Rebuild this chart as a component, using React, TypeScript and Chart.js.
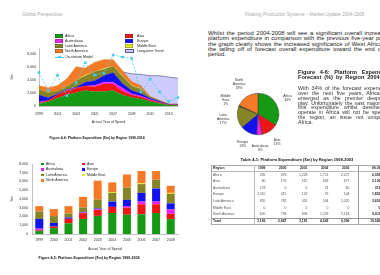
import React, { useEffect, useRef } from 'react';
import { Chart, registerables } from 'chart.js';

Chart.register(...registerables);

const FONT = "'Liberation Sans', Arial, sans-serif";
Chart.defaults.font.family = FONT;

// ---------- data ----------
const years = ['1999', '2000', '2001', '2002', '2003', '2004', '2005', '2006', '2007', '2008', '2009', '2010', '2011', '2012', '2013', '2014'];
const barYears = ['1999', '2000', '2001', '2002', '2003', '2004', '2005', '2006', '2007', '2008'];
const tableYears = ['1999', '2000', '2001', '2002', '2003'];

const regionNames = ['Africa', 'Asia', 'Australasia', 'Europe', 'Latin America', 'Middle East', 'North America'];
const regionColors = ['#169a16', '#ee1515', '#ee22ee', '#1212ee', '#858528', '#e8e820', '#f57a25'];

const africa = [355, 676, 1228, 1721, 2072, 2400, 2200, 2250, 2400, 1700, 1300, 1100, 700, 400, 150, 100];
const asia = [80, 176, 515, 658, 677, 700, 800, 1150, 1000, 600, 400, 300, 200, 150, 50, 100];
const australasia = [178, 0, 0, 74, 60, 0, 200, 300, 300, 500, 200, 150, 100, 50, 20, 20];
const europe = [1110, 415, 147, 76, 104, 600, 700, 1000, 1500, 700, 500, 400, 200, 150, 50, 50];
const latinAmerica = [855, 782, 455, 504, 1020, 1000, 1400, 1000, 1000, 1100, 700, 700, 200, 100, 30, 30];
const middleEast = [0, 0, 0, 0, 0, 100, 0, 100, 0, 100, 100, 50, 0, 0, 0, 0];
const northAmerica = [605, 798, 836, 1209, 2163, 1100, 1500, 1400, 1000, 800, 600, 500, 100, 50, 0, 0];
const regionSeries = [africa, asia, australasia, europe, latinAmerica, middleEast, northAmerica];

const longTermTrend = [null, null, null, null, null, null, null, null, null, 5300, 5000, 4900, 4700, 4700, 4500, 4300];
const onStreamModel = [5200, 2400, 4800, 1600, 3600, 6700, 4800, 5100, 7900, 7600, 7400, 2200, 4200, 2200, 700, 1300];

const pieShares = [34, 13, 4, 13, 17, 1, 18];

const areaYMax = 9000;
const barYMax = 8000;
const yStep = 1000;

// ---------- helpers ----------
type TxtProps = { x: number; y: number; size: number; bold?: boolean; color?: string; align?: string; width?: number; children: any };
const Txt = ({ x, y, size, bold, color = '#222', align = 'left', width, children }: TxtProps) => {
  const style: any = {
    position: 'absolute', top: y - size * 0.6, left: x, fontSize: size + 'px', lineHeight: size * 1.2 + 'px',
    fontWeight: bold ? 700 : 400, color, whiteSpace: 'nowrap', fontFamily: FONT,
  };
  if (align === 'center') style.transform = 'translateX(-50%)';
  if (align === 'right') style.transform = 'translateX(-100%)';
  if (align === 'justify') { style.width = width; style.textAlign = 'justify'; style.textAlignLast = 'justify'; }
  return <div style={style}>{children}</div>;
};

const tickFont = { size: 3.5, family: FONT };
const titleFont = { size: 3.6, family: FONT };

const pieLabelPlugin = {
  id: 'pieLabels',
  afterDatasetsDraw(chart: any) {
    const ctx = chart.ctx;
    const meta = chart.getDatasetMeta(0);
    ctx.save();
    ctx.font = `3.4px ${FONT}`;
    ctx.fillStyle = '#333';
    ctx.textAlign = 'center';
    ctx.textBaseline = 'middle';
    meta.data.forEach((arc: any, i: number) => {
      const p = arc.getProps(['x', 'y', 'startAngle', 'endAngle', 'outerRadius'], true);
      const mid = (p.startAngle + p.endAngle) / 2;
      const lines = [...regionNames[i].split(' '), pieShares[i] + '%'];
      const R = p.outerRadius + 10 + lines.length * 1.5;
      const cx = p.x + Math.cos(mid) * R;
      const cy = p.y + Math.sin(mid) * R;
      const lh = 4;
      lines.forEach((l, k) => ctx.fillText(l, cx, cy + (k - (lines.length - 1) / 2) * lh));
    });
    ctx.restore();
  },
};

export default function App() {
  const areaRef = useRef<HTMLCanvasElement>(null);
  const barRef = useRef<HTMLCanvasElement>(null);
  const pieRef = useRef<HTMLCanvasElement>(null);

  useEffect(() => {
    const axisBorder = { display: true, color: '#999', width: 0.6 };
    const stackedSets = regionSeries.map((s, i) => ({
      label: regionNames[i], data: s, backgroundColor: regionColors[i], borderColor: regionColors[i],
      borderWidth: 0.3, fill: i === 0 ? 'origin' : '-1', pointRadius: 0, stack: 'regions', order: 1,
    }));
    const area = new Chart(areaRef.current!, {
      type: 'line',
      data: {
        labels: years,
        datasets: [
          ...stackedSets,
          { label: 'Long-term Trend', data: longTermTrend, backgroundColor: '#ccccff', borderColor: '#5a5a90', borderWidth: 0.7, fill: 'origin', pointRadius: 0, stack: 'trend', order: 5 },
          { label: 'On-stream Model', data: onStreamModel, borderColor: '#44ccee', backgroundColor: '#44ccee', borderWidth: 0.8, borderDash: [2, 1.5], fill: false, pointRadius: 1.3, pointStyle: 'rect', stack: 'model', order: 0 },
        ] as any,
      },
      options: {
        responsive: false, animation: false,
        layout: { padding: { top: 18, right: 12, bottom: 4, left: 0 } },
        plugins: { legend: { display: false }, tooltip: { enabled: false } },
        elements: { line: { tension: 0 } },
        scales: {
          x: {
            offset: false, grid: { display: false, drawTicks: false }, border: axisBorder,
            ticks: { autoSkip: false, maxRotation: 0, font: tickFont, color: '#333', padding: 6, callback: (_v: any, i: number) => (i % 2 === 0 ? years[i] : '') },
            title: { display: true, text: 'Actual Year of Spend', font: titleFont, color: '#333', padding: { top: 0, bottom: 1.8 } },
            afterFit: (s: any) => { s.height = 20; },
          },
          y: {
            stacked: true, min: 0, max: areaYMax, grid: { display: false, drawTicks: false }, border: axisBorder,
            ticks: { stepSize: yStep, font: tickFont, color: '#333', padding: 3 },
            title: { display: true, text: '$m', font: titleFont, color: '#333', padding: { top: 9.8, bottom: 0 } },
            afterFit: (s: any) => { s.width = 39; },
          },
        },
      } as any,
    });

    const bar = new Chart(barRef.current!, {
      type: 'bar',
      data: {
        labels: barYears,
        datasets: regionSeries.map((s, i) => ({
          label: regionNames[i], data: s.slice(0, barYears.length), backgroundColor: regionColors[i],
          categoryPercentage: 1, barPercentage: 0.55,
        })),
      },
      options: {
        responsive: false, animation: false,
        layout: { padding: { top: 14, right: 12, bottom: 11, left: 0 } },
        plugins: { legend: { display: false }, tooltip: { enabled: false } },
        scales: {
          x: {
            stacked: true, grid: { display: false, drawTicks: false }, border: axisBorder,
            ticks: { autoSkip: false, maxRotation: 0, font: tickFont, color: '#333', padding: 4.2 },
            title: { display: true, text: 'Actual Year of Spend', font: titleFont, color: '#333', padding: { top: 0, bottom: 2.8 } },
            afterFit: (s: any) => { s.height = 20; },
          },
          y: {
            stacked: true, min: 0, max: barYMax, grid: { display: false, drawTicks: false }, border: axisBorder,
            ticks: { stepSize: yStep, font: tickFont, color: '#333', padding: 4 },
            title: { display: true, text: '$m', font: titleFont, color: '#333', padding: { top: 9.8, bottom: 0 } },
            afterFit: (s: any) => { s.width = 32; },
          },
        },
      } as any,
    });

    const pie = new Chart(pieRef.current!, {
      type: 'pie',
      data: {
        labels: regionNames,
        datasets: [{ data: pieShares, backgroundColor: regionColors.map((c, i) => (i === 5 ? '#3a3a10' : c)), borderColor: '#333', borderWidth: 0.4 }],
      },
      options: {
        responsive: false, animation: false,
        layout: { padding: { left: 37, right: 37, top: 28, bottom: 28 } },
        plugins: { legend: { display: false }, tooltip: { enabled: false } },
      } as any,
      plugins: [pieLabelPlugin],
    });

    return () => { area.destroy(); bar.destroy(); pie.destroy(); };
  }, []);

  // legends
  const areaLegend = [
    ...regionNames.map((n, i) => ({ name: n, color: regionColors[i], kind: 'box' })),
    { name: 'Long-term Trend', color: '#ccccff', kind: 'trend' },
    { name: 'On-stream Model', color: '#44ccee', kind: 'line' },
  ];
  const areaRows = [36, 41, 46, 51, 57];
  const barRows = [164, 169.5, 175, 180.5];

  // table
  const tableRows = regionNames.map((n, i) => {
    const vals = regionSeries[i].slice(0, tableYears.length);
    return { name: n, vals, total: vals.reduce((a, b) => a + b, 0) };
  });
  const colTotals = tableYears.map((_y, j) => tableRows.reduce((a, r) => a + r.vals[j], 0));
  const grand = colTotals.reduce((a, b) => a + b, 0);
  const fmt = (v: number) => v.toLocaleString('en-US');
  const tLeft = 211;
  const tTop = 164.7;
  const rowH = 6.6;
  const colX = [254, 275, 296, 317, 338, 359];
  const colW = [21, 21, 21, 21, 21, 31];
  const cellSize = 3.4;
  const renderRow = (label: string, cells: string[], r: number, bold: boolean) => {
    const cy = tTop + rowH * (r + 0.5);
    const col = bold ? '#222' : '#555';
    return (
      <React.Fragment key={'r' + r}>
        <Txt x={tLeft + 2} y={cy} size={cellSize} bold={bold} color={col}>{label}</Txt>
        {cells.map((c, k) => (
          <Txt key={k} x={colX[k] + colW[k] - 9.5} y={cy} size={cellSize} bold={bold || k === 5} color={bold || k === 5 ? '#222' : '#555'} align="right">{c}</Txt>
        ))}
      </React.Fragment>
    );
  };

  const line = (x: number, y: number, w: number, h: number, c = '#aaa') => (
    <div style={{ position: 'absolute', left: x, top: y, width: w, height: h, background: c }} />
  );

  return (
    <div style={{ position: 'absolute', left: 0, top: 0, width: 380, height: 275, overflow: 'hidden', background: '#fff', fontFamily: FONT }}>
      {/* headers */}
      <Txt x={22} y={15} size={4.8} color="#aaa">Global Perspective</Txt>
      <Txt x={245} y={15} size={4.7} color="#aaa">Floating Production Systems – Market Update 2004-2008</Txt>

      {/* area chart */}
      <canvas ref={areaRef} width={190} height={100} style={{ position: 'absolute', left: 0, top: 30, width: 190, height: 100 }} />
      {areaLegend.map((it, i) => {
        const col = i % 2;
        const row = Math.floor(i / 2);
        const y = areaRows[row];
        const sx = col === 0 ? 55 : 125;
        const tx = col === 0 ? 65 : 137;
        return (
          <React.Fragment key={'al' + i}>
            {it.kind === 'box' && <div style={{ position: 'absolute', left: sx, top: y - 1.6, width: 8, height: 3.2, background: it.color, boxShadow: 'inset 0 0 0 0.3px #333' }} />}
            {it.kind === 'trend' && <div style={{ position: 'absolute', left: sx, top: y - 1.6, width: 9, height: 3.2, background: it.color, boxSizing: 'border-box', border: '0.6px solid #5a5a90' }} />}
            {it.kind === 'line' && (
              <>
                <div style={{ position: 'absolute', left: sx, top: y - 0.4, width: 9, height: 0, borderTop: '0.8px dashed ' + it.color }} />
                <div style={{ position: 'absolute', left: sx + 3.4, top: y - 1.1, width: 2.2, height: 2.2, background: it.color }} />
              </>
            )}
            <Txt x={tx} y={y} size={3.6} color="#222">{it.name}</Txt>
          </React.Fragment>
        );
      })}
      <Txt x={97} y={138} size={3.4} bold color="#111" align="center">Figure 4-4: Platform Expenditure ($m) by Region 1999-2014</Txt>

      {/* bar chart */}
      <canvas ref={barRef} width={190} height={115} style={{ position: 'absolute', left: 0, top: 150, width: 190, height: 115 }} />
      {regionNames.map((n, i) => {
        const col = i % 2;
        const y = barRows[Math.floor(i / 2)];
        const sx = col === 0 ? 41 : 82;
        return (
          <React.Fragment key={'bl' + i}>
            <div style={{ position: 'absolute', left: sx, top: y - 1.3, width: 2.6, height: 2.6, background: regionColors[i] }} />
            <Txt x={sx + 5} y={y} size={3.5} color="#222">{n}</Txt>
          </React.Fragment>
        );
      })}
      <Txt x={89} y={258} size={3.6} bold color="#111" align="center">Figure 4-5: Platform Expenditure ($m) by Region 1999-2008</Txt>

      {/* right column text */}
      {[
        'Whilst the period 2004-2008 will see a significant overall increase in',
        'platform expenditure in comparison with the previous five-year period,',
        'the graph clearly shows the increased significance of West Africa and',
        'the tailing off of forecast overall expenditure toward the end of the',
      ].map((t, i) => (
        <Txt key={'p' + i} x={208} y={33.3 + i * 5.4} size={5.9} align="justify" width={186}>{t}</Txt>
      ))}
      <Txt x={208} y={33.3 + 4 * 5.4} size={5.9}>period.</Txt>

      {/* pie */}
      <canvas ref={pieRef} width={116} height={98} style={{ position: 'absolute', left: 200, top: 65, width: 116, height: 98 }} />
      <Txt x={298} y={72} size={5.6} bold align="justify" width={96}>Figure 4-6: Platform Expenditure</Txt>
      <Txt x={298} y={77} size={5.6} bold align="justify" width={96}>Forecast (%) by Region 2004-2008</Txt>
      {[
        'With 34% of the forecast expenditure',
        'over the next five years, Africa has',
        'emerged as the premier deepwater',
        'play. Unfortunately the vast majority of',
        'this expenditure whilst destined to',
        'operate in Africa will not be spent in',
        'the region, an issue not unique to',
      ].map((t, i) => (
        <Txt key={'q' + i} x={298} y={88 + i * 4.9} size={5.3} color="#333" align="justify" width={94}>{t}</Txt>
      ))}
      <Txt x={298} y={88 + 7 * 4.9} size={5.3} color="#333">Africa.</Txt>

      {/* table */}
      <Txt x={297} y={160} size={4.1} bold color="#111" align="center">Table 4-1: Platform Expenditure ($m) by Region 1999-2003</Txt>
      {line(tLeft, tTop, 180, 0.6)}
      {line(tLeft, tTop + rowH, 180, 0.5, '#bbb')}
      {line(tLeft, tTop + rowH * 8, 180, 0.5, '#999')}
      {line(tLeft, tTop + rowH * 9, 180, 0.6)}
      {line(tLeft, tTop, 0.6, rowH * 9)}
      {line(254, tTop, 0.5, rowH * 9, '#bbb')}
      {line(358, tTop, 0.7, rowH * 9, '#999')}
      {renderRow('Region', [...tableYears, '99-03'], 0, true)}
      {tableRows.map((r, i) => renderRow(r.name, [...r.vals.map(fmt), fmt(r.total)], i + 1, false))}
      {renderRow('Total', [...colTotals.map(fmt), fmt(grand)], 8, true)}
    </div>
  );
}
